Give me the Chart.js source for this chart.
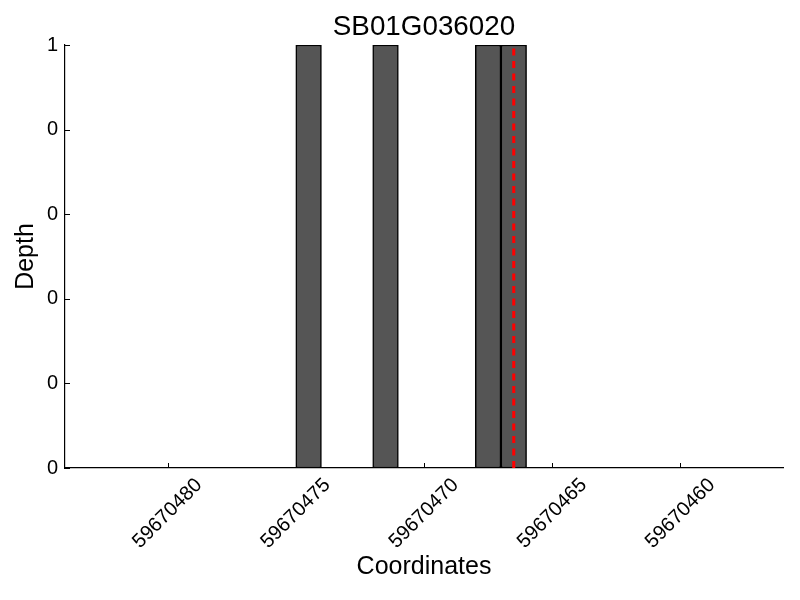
<!DOCTYPE html>
<html>
<head>
<meta charset="utf-8">
<script src="https://cdn.jsdelivr.net/npm/chart.js@4/dist/chart.umd.min.js"></script>
<style>
  html, body { margin: 0; padding: 0; background: #fff; }
  #wrap { width: 800px; height: 600px; }
</style>
</head>
<body>
<div id="wrap"><canvas id="depth" width="800" height="600"></canvas></div>
<script>
// coverage bars (bar centre position, depth)
var barPositions = [59670474.5, 59670471.5, 59670467.5, 59670466.5];
var barDepths = [1, 1, 1, 1];
// red marker line
var markerPosition = 59670466.5;
var markerRange = [0, 1];
// axes
var xRange = [59670456, 59670484];
var xTicks = [59670480, 59670475, 59670470, 59670465, 59670460];
var yTicks = [0, 0.2, 0.4, 0.6, 0.8, 1];

var FONT = "'Liberation Sans', Arial, Helvetica, sans-serif";
var TICK_SIZE = 20;

// matplotlib-like inward tick marks and centred rotated x labels
var axisDecor = {
    id: 'axisDecor',
    afterDraw: function(chart) {
        var ctx = chart.ctx;
        var area = chart.chartArea;
        var xs = chart.scales.x;
        var ys = chart.scales.y;
        ctx.save();
        ctx.strokeStyle = '#000';
        ctx.lineWidth = 1;
        ctx.beginPath();
        for (var i = 0; i < xTicks.length; i++) {
            var px = Math.round(xs.getPixelForValue(xTicks[i])) + 0.5;
            ctx.moveTo(px, area.bottom);
            ctx.lineTo(px, area.bottom - 5);
        }
        for (var j = 0; j < yTicks.length; j++) {
            var py = Math.round(ys.getPixelForValue(yTicks[j])) + 0.5;
            ctx.moveTo(area.left, py);
            ctx.lineTo(area.left + 5, py);
        }
        ctx.stroke();

        ctx.fillStyle = '#000';
        ctx.font = TICK_SIZE + 'px ' + FONT;
        ctx.textAlign = 'center';
        ctx.textBaseline = 'middle';
        for (var k = 0; k < xTicks.length; k++) {
            var label = String(xTicks[k]);
            var w = ctx.measureText(label).width;
            var half = (w + TICK_SIZE) * Math.SQRT1_2 / 2;
            ctx.save();
            ctx.translate(xs.getPixelForValue(xTicks[k]), area.bottom + 7 + half);
            ctx.rotate(-Math.PI / 4);
            ctx.fillText(label, 0, 0);
            ctx.restore();
        }
        ctx.restore();
    }
};

var chart = new Chart(document.getElementById('depth'), {
    type: 'bar',
    data: {
        datasets: [{
            type: 'line',
            label: 'marker',
            data: markerRange.map(function(v) { return {x: markerPosition, y: v}; }),
            borderColor: '#ff0000',
            borderWidth: 3,
            borderDash: [7, 5.5],
            pointRadius: 0,
            fill: false,
            order: 0
        }, {
            label: 'depth',
            data: barPositions.map(function(p, i) { return {x: p, y: barDepths[i]}; }),
            backgroundColor: '#555555',
            borderColor: '#000000',
            borderWidth: 1.5,
            borderSkipped: false,
            barPercentage: 1,
            categoryPercentage: 1,
            order: 1
        }]
    },
    options: {
        responsive: false,
        animation: false,
        layout: { padding: { left: 0, right: 17, top: 0, bottom: 0 } },
        plugins: {
            legend: { display: false },
            tooltip: { enabled: false },
            title: {
                display: true,
                text: 'SB01G036020',
                color: '#000',
                fullSize: false,
                font: { family: FONT, size: 27.8, weight: 'normal', lineHeight: 1.2 },
                padding: { top: 10.8, bottom: 0.84 }
            }
        },
        scales: {
            x: {
                type: 'linear',
                reverse: true,
                offset: false,
                min: xRange[0],
                max: xRange[1],
                grid: { display: false, drawTicks: false, offset: false },
                border: { display: true, color: '#000', width: 1.2 },
                ticks: { display: false },
                afterBuildTicks: function(scale) {
                    scale.ticks = xTicks.map(function(v) { return {value: v}; });
                },
                afterFit: function(scale) { scale.height = 132; },
                title: {
                    display: true,
                    text: 'Coordinates',
                    color: '#000',
                    font: { family: FONT, size: 25, lineHeight: 1.2 },
                    padding: { top: 0, bottom: 17.5 }
                }
            },
            y: {
                min: 0,
                max: 1,
                grid: { display: false, drawTicks: false },
                border: { display: true, color: '#000', width: 1.2 },
                afterBuildTicks: function(scale) {
                    scale.ticks = yTicks.map(function(v) { return {value: v}; });
                },
                ticks: {
                    color: '#000',
                    padding: 7,
                    font: { family: FONT, size: TICK_SIZE },
                    callback: function(v) { return String(Math.floor(v + 1e-9)); }
                },
                afterFit: function(scale) { scale.width = 65; },
                title: {
                    display: true,
                    text: 'Depth',
                    color: '#000',
                    font: { family: FONT, size: 25, lineHeight: 1.2 },
                    padding: { top: 11, bottom: 0 }
                }
            }
        }
    },
    plugins: [axisDecor]
});
</script>
</body>
</html>
